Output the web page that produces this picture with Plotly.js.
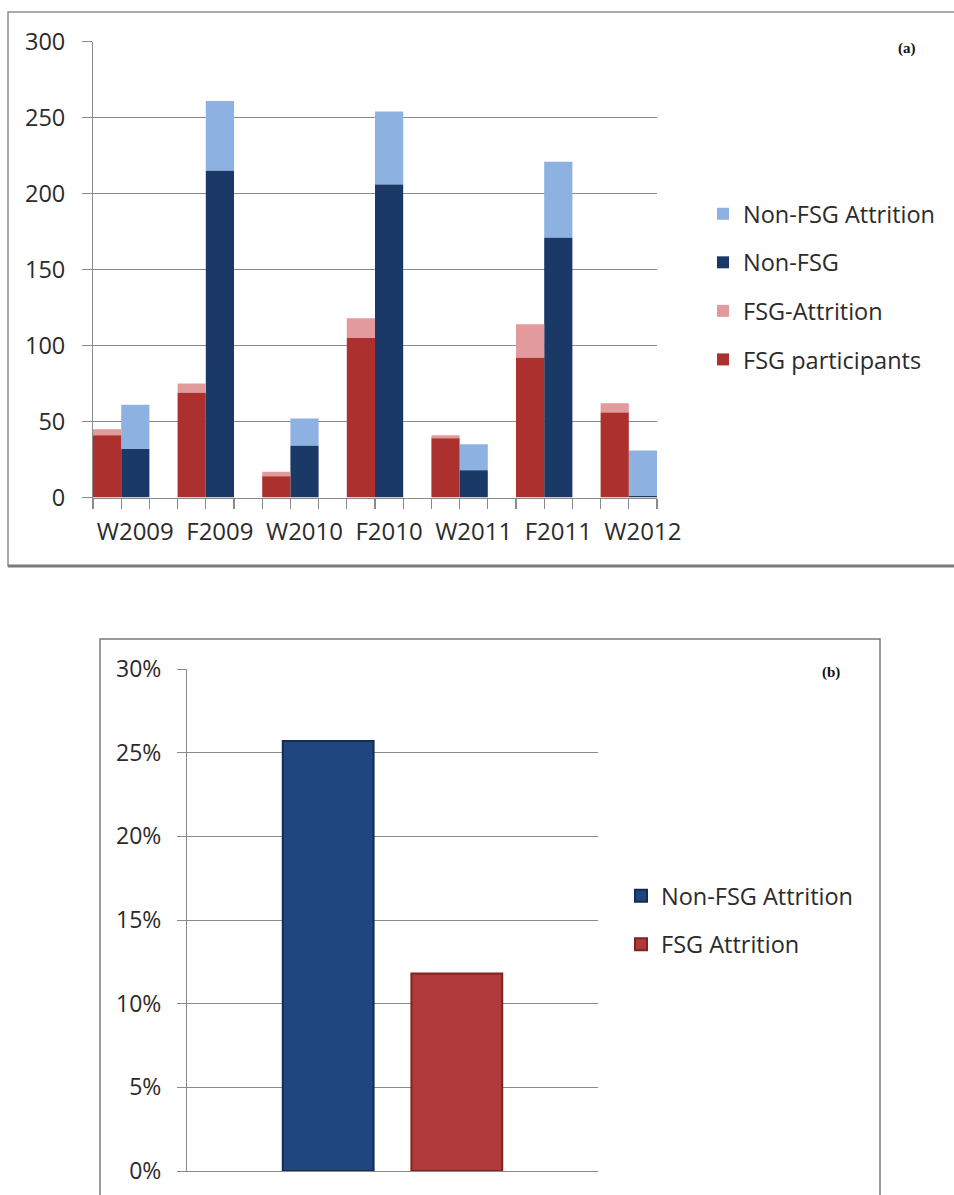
<!DOCTYPE html>
<html>
<head>
<meta charset="utf-8">
<script src="https://cdn.plot.ly/plotly-3.0.1.min.js"></script>
<style>html,body{margin:0;padding:0;background:#fff;}#chart{width:954px;height:1195px;}</style>
</head>
<body>
<div id="chart"></div>
<script>
// ---- Data: panel (a) ----
const categories = ['W2009', 'F2009', 'W2010', 'F2010', 'W2011', 'F2011', 'W2012'];
const fsgParticipants = [41, 69, 14, 105, 39, 92, 56];
const fsgAttrition = [4, 6, 3, 13, 2, 22, 6];
const nonFsg = [32, 215, 34, 206, 18, 171, 1];
const nonFsgAttrition = [29, 46, 18, 48, 17, 50, 30];
const yTicksA = [0, 50, 100, 150, 200, 250, 300];

// ---- Data: panel (b) ----
const attritionLabels = ['Non-FSG Attrition', 'FSG Attrition'];
const attritionRates = [0.257, 0.118];
const yTicksB = [0, 0.05, 0.10, 0.15, 0.20, 0.25, 0.30];

const W = 954, H = 1195;
const px = v => v / W;
const py = v => 1 - v / H;
const FONT = '"Open Sans", "DejaVu Sans", sans-serif';
const TXT = '#2b2b2b';
const GRID = '#8a8a8a';

const colFsg = '#AC302D';
const colFsgAtt = '#E29A9D';
const colNon = '#1A3966';
const colNonAtt = '#8DB2E2';

const slotW = 1 / 3;
const nSlots = categories.length * 3 - 1;  // bar slots + gaps along the category axis
const slotTicks = Array.from({length: nSlots + 1}, (_, i) => i);

const traces = [
  {type: 'bar', name: 'Non-FSG Attrition', x: categories, y: nonFsgAttrition, base: nonFsg.slice(),
   offset: -0.5 + slotW, width: slotW, marker: {color: colNonAtt, line: {width: 0}},
   legendgroup: 'g1', legend: 'legend', xaxis: 'x', yaxis: 'y'},
  {type: 'bar', name: 'Non-FSG', x: categories, y: nonFsg,
   offset: -0.5 + slotW, width: slotW, marker: {color: colNon, line: {width: 0}},
   legendgroup: 'g2', legend: 'legend', xaxis: 'x', yaxis: 'y'},
  {type: 'bar', name: 'FSG-Attrition', x: categories, y: fsgAttrition, base: fsgParticipants.slice(),
   offset: -0.5, width: slotW, marker: {color: colFsgAtt, line: {width: 0}},
   legendgroup: 'g3', legend: 'legend', xaxis: 'x', yaxis: 'y'},
  {type: 'bar', name: 'FSG participants', x: categories, y: fsgParticipants,
   offset: -0.5, width: slotW, marker: {color: colFsg, line: {width: 0}},
   legendgroup: 'g4', legend: 'legend', xaxis: 'x', yaxis: 'y'},
  // helper (invisible) so the slot tick axis is rendered
  {type: 'scatter', mode: 'markers', x: [0, nSlots], y: [0, 0], marker: {opacity: 0, size: 1},
   showlegend: false, hoverinfo: 'skip', xaxis: 'x3', yaxis: 'y'},
  // panel (b)
  {type: 'bar', name: attritionLabels[0], x: ['Attrition'], y: [attritionRates[0]],
   marker: {color: '#1F467F', line: {color: '#142C52', width: 2}},
   legend: 'legend2', legendgroup: 'b1', xaxis: 'x2', yaxis: 'y2'},
  {type: 'bar', name: attritionLabels[1], x: ['Attrition'], y: [attritionRates[1]],
   marker: {color: '#B03A3A', line: {color: '#7E2424', width: 2}},
   legend: 'legend2', legendgroup: 'b2', xaxis: 'x2', yaxis: 'y2'}
];

const layout = {
  width: W, height: H, autosize: false,
  margin: {l: 0, r: 0, t: 0, b: 0},
  paper_bgcolor: '#ffffff', plot_bgcolor: '#ffffff',
  font: {family: FONT, color: TXT},
  barmode: 'group', bargap: 0.374, bargroupgap: 0.294,
  showlegend: true,
  xaxis: {domain: [px(93), px(657)], anchor: 'y', type: 'category',
    range: [-0.5, categories.length - 0.5 - slotW],
    showgrid: false, zeroline: false, showline: true, linecolor: GRID, linewidth: 1,
    ticks: '', tickfont: {family: FONT, size: 24, color: TXT}, ticklabelstandoff: 13, fixedrange: true},
  xaxis3: {overlaying: 'x', anchor: 'y', side: 'bottom', range: [0, nSlots],
    tickvals: slotTicks, showticklabels: false,
    ticks: 'outside', ticklen: 10, tickwidth: 1.2, tickcolor: GRID, showgrid: false, zeroline: false, showline: false},
  yaxis: {domain: [py(497.5), py(41.7)], anchor: 'x', range: [0, 300], tickvals: yTicksA,
    showgrid: true, gridcolor: GRID, gridwidth: 1, zeroline: false,
    showline: true, linecolor: GRID, ticks: 'outside', ticklen: 10, tickcolor: GRID,
    tickfont: {family: FONT, size: 23.5, color: TXT}, ticklabelstandoff: 12},
  xaxis2: {domain: [px(187), px(598)], anchor: 'y2', type: 'category',
    showticklabels: false, ticks: '', showgrid: false, zeroline: false,
    showline: true, linecolor: GRID},
  yaxis2: {domain: [py(1171), py(669)], anchor: 'x2', range: [0, 0.30], tickvals: yTicksB,
    tickformat: '.0%', showgrid: true, gridcolor: GRID, zeroline: false,
    showline: true, linecolor: GRID, ticks: 'outside', ticklen: 9, tickcolor: GRID,
    tickfont: {family: FONT, size: 23, color: TXT}, ticklabelstandoff: 11},
  legend: {x: px(703), y: py(192), xanchor: 'left', yanchor: 'top', traceorder: 'grouped',
    tracegroupgap: 15, font: {family: FONT, size: 23.5, color: TXT}, bgcolor: 'rgba(0,0,0,0)', borderwidth: 0},
  legend2: {x: px(621), y: py(874), xanchor: 'left', yanchor: 'top', traceorder: 'grouped',
    tracegroupgap: 15, font: {family: FONT, size: 23.5, color: TXT}, bgcolor: 'rgba(0,0,0,0)', borderwidth: 0},
  shapes: [
    {type: 'rect', xref: 'paper', yref: 'paper', x0: px(8), x1: px(962), y0: py(566), y1: py(12),
     line: {color: '#8f8f8f', width: 1.5}, layer: 'below'},
    {type: 'line', xref: 'paper', yref: 'paper', x0: px(8), x1: px(962), y0: py(566), y1: py(566),
     line: {color: '#7a7a7a', width: 3}},
    {type: 'rect', xref: 'paper', yref: 'paper', x0: px(100), x1: px(880), y0: py(1205), y1: py(639),
     line: {color: '#7a7a7a', width: 1.5}, layer: 'below'}
  ],
  annotations: [
    {text: '<b>(a)</b>', xref: 'paper', yref: 'paper', x: px(918), y: py(38), showarrow: false,
     font: {family: '"Liberation Serif", "DejaVu Serif", serif', size: 15, color: '#111'}},
    {text: '<b>(b)</b>', xref: 'paper', yref: 'paper', x: px(842), y: py(672), showarrow: false,
     font: {family: '"Liberation Serif", "DejaVu Serif", serif', size: 15, color: '#111'}}
  ]
};

Plotly.newPlot('chart', traces, layout, {staticPlot: true, displayModeBar: false});
</script>
</body>
</html>
